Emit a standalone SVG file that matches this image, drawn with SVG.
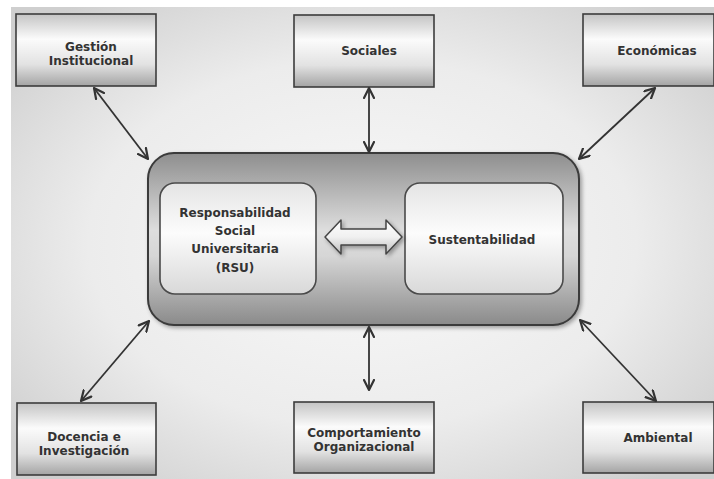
<svg xmlns="http://www.w3.org/2000/svg" width="714" height="479" viewBox="0 0 714 479">
<defs>
<radialGradient id="bg" cx="0.5" cy="0.5" r="0.65">
<stop offset="0" stop-color="#f9f9f9"/>
<stop offset="0.6" stop-color="#ececec"/>
<stop offset="1" stop-color="#cfcfcf"/>
</radialGradient>
<linearGradient id="box" x1="0" y1="0" x2="0" y2="1">
<stop offset="0" stop-color="#c4c4c4"/>
<stop offset="0.35" stop-color="#fbfbfb"/>
<stop offset="0.7" stop-color="#e2e2e2"/>
<stop offset="1" stop-color="#a4a4a4"/>
</linearGradient>
<linearGradient id="main" x1="0" y1="0" x2="0" y2="1">
<stop offset="0" stop-color="#8e8e8e"/>
<stop offset="0.45" stop-color="#dedede"/>
<stop offset="0.6" stop-color="#d6d6d6"/>
<stop offset="1" stop-color="#8a8a8a"/>
</linearGradient>
<linearGradient id="inner" x1="0" y1="0" x2="0" y2="1">
<stop offset="0" stop-color="#e4e4e4"/>
<stop offset="0.45" stop-color="#fcfcfc"/>
<stop offset="1" stop-color="#d8d8d8"/>
</linearGradient>
<linearGradient id="hollow" x1="0" y1="0" x2="0" y2="1">
<stop offset="0" stop-color="#ffffff"/>
<stop offset="0.5" stop-color="#f0f0f0"/>
<stop offset="1" stop-color="#bdbdbd"/>
</linearGradient>
<filter id="sh" x="-10%" y="-10%" width="130%" height="130%">
<feGaussianBlur in="SourceAlpha" stdDeviation="2"/>
<feOffset dx="2" dy="2"/>
<feComponentTransfer><feFuncA type="linear" slope="0.35"/></feComponentTransfer>
<feMerge><feMergeNode/><feMergeNode in="SourceGraphic"/></feMerge>
</filter>
<marker id="ah" viewBox="0 0 12 12" refX="11" refY="6" markerWidth="12" markerHeight="12" markerUnits="userSpaceOnUse" orient="auto-start-reverse">
<path d="M1,1 L11,6 L1,11" fill="none" stroke="#333" stroke-width="2.2" stroke-linecap="round" stroke-linejoin="round"/>
</marker>
</defs>
<style>
.box{fill:url(#box);stroke:#3c3c3c;stroke-width:1.6}
.inner{fill:url(#inner);stroke:#4a4a4a;stroke-width:1.6}
.lbl{font-family:"DejaVu Sans",Verdana,sans-serif;font-weight:bold;font-size:12px;fill:#333;text-anchor:middle}
.con{stroke:#333;stroke-width:1.8;fill:none;marker-start:url(#ah);marker-end:url(#ah)}
</style>
<rect width="714" height="479" fill="#ffffff"/>
<rect x="11" y="7" width="703" height="472" fill="url(#bg)"/>

<g id="main-container">
<rect x="148" y="153" width="431" height="172" rx="26" fill="url(#main)" stroke="#3a3a3a" stroke-width="2" filter="url(#sh)"/>
</g>
<g id="rsu">
<rect class="inner" x="160" y="183" width="156" height="111" rx="15"/>
<text class="lbl" x="235" y="217">Responsabilidad</text>
<text class="lbl" x="235" y="235">Social</text>
<text class="lbl" x="235" y="253">Universitaria</text>
<text class="lbl" x="235" y="272">(RSU)</text>
</g>
<g id="sustentabilidad">
<rect class="inner" x="405" y="183" width="158" height="111" rx="15"/>
<text class="lbl" x="482" y="244">Sustentabilidad</text>
</g>
<g id="hollow-arrow">
<path d="M325,237 L341,220 L341,229 L386,229 L386,220 L402,237 L386,254 L386,245 L341,245 L341,254 Z" fill="url(#hollow)" stroke="#444" stroke-width="1.5" stroke-linejoin="round" filter="url(#sh)"/>
</g>

<g id="gestion">
<rect class="box" x="16" y="14" width="140" height="72"/>
<text class="lbl" x="91" y="51">Gestión</text>
<text class="lbl" x="91" y="65">Institucional</text>
</g>
<g id="sociales">
<rect class="box" x="294" y="15" width="140" height="72"/>
<text class="lbl" x="369" y="55">Sociales</text>
</g>
<g id="economicas">
<rect class="box" x="583" y="14" width="131" height="72"/>
<text class="lbl" x="657" y="55">Económicas</text>
</g>
<g id="docencia">
<rect class="box" x="17" y="403" width="139" height="72"/>
<text class="lbl" x="84" y="441">Docencia e</text>
<text class="lbl" x="84" y="455">Investigación</text>
</g>
<g id="comportamiento">
<rect class="box" x="294" y="402" width="140" height="71"/>
<text class="lbl" x="364" y="437">Comportamiento</text>
<text class="lbl" x="364" y="451">Organizacional</text>
</g>
<g id="ambiental">
<rect class="box" x="583" y="402" width="131" height="71"/>
<text class="lbl" x="658" y="442">Ambiental</text>
</g>

<g id="connectors">
<line class="con" x1="94" y1="88" x2="148" y2="159"/>
<line class="con" x1="369" y1="88" x2="369" y2="152"/>
<line class="con" x1="655" y1="88" x2="579" y2="159"/>
<line class="con" x1="149" y1="321" x2="81" y2="401"/>
<line class="con" x1="369" y1="327" x2="369" y2="390"/>
<line class="con" x1="580" y1="320" x2="656" y2="401"/>
</g>
</svg>
